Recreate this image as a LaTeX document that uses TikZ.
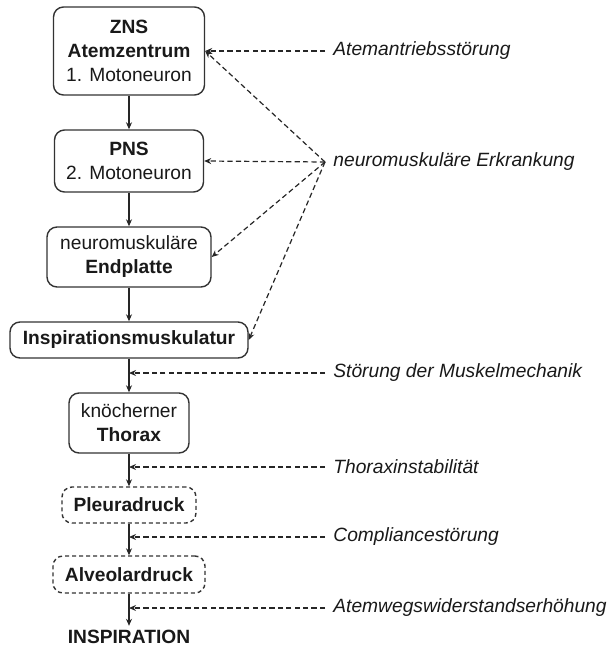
\documentclass[tikz,border=0pt]{standalone}
\usepackage{fontspec}
\setmainfont{Liberation Sans}
\usetikzlibrary{arrows.meta}

\begin{document}
\begin{tikzpicture}[x=0.5pt,y=-0.5pt]
          \tikzstyle{every node}+=[font=\fontsize{9.6}{12}\selectfont, text=black!90]
          \tikzstyle{box}=[draw=black!80, line width=0.7pt, rounded corners=5pt, align=center, inner sep=0pt]
          \tikzstyle{dbox}=[box, dash pattern=on 2pt off 1.5pt]
          \tikzstyle{flow}=[-{Stealth[length=3.5pt,width=3pt]}, line width=0.6pt, black!85]
          \tikzstyle{cause}=[-{Stealth[length=3.5pt,width=3pt]}, dash pattern=on 2.6pt off 1.6pt, line width=0.6pt, black!85]
          \tikzstyle{lbl}=[anchor=west, inner sep=4pt, font=\fontsize{9.6}{12}\selectfont\itshape]
          \useasboundingbox (0,0) rectangle (614,648);
          % chain
          \node[box, minimum width=75.5pt, minimum height=44pt] (zns) at (129,51) {\textbf{ZNS}\\\textbf{Atemzentrum}\\1. Motoneuron};
          \node[box, minimum width=74.5pt, minimum height=31pt] (pns) at (129,161) {\textbf{PNS}\\2. Motoneuron};
          \node[box, minimum width=82pt, minimum height=30pt] (endpl) at (129,257) {neuromuskuläre\\\textbf{Endplatte}};
          \node[box, minimum width=119pt, minimum height=18pt] (insp) at (129,340) {\textbf{Inspirationsmuskulatur}};
          \node[box, minimum width=60pt, minimum height=30pt] (thx) at (129,423) {knöcherner\\\textbf{Thorax}};
          \node[dbox, minimum width=67pt, minimum height=18pt] (pleu) at (129,505) {\textbf{Pleuradruck}};
          \node[dbox, minimum width=76pt, minimum height=18.5pt] (alv) at (129,574.5) {\textbf{Alveolardruck}};
          \node[inner sep=2pt] (out) at (129,637) {\textbf{INSPIRATION}};
          \draw[flow] (zns) -- (pns);
          \draw[flow] (pns) -- (endpl);
          \draw[flow] (endpl) -- (insp);
          \draw[flow] (insp) -- (thx);
          \draw[flow] (thx) -- (pleu);
          \draw[flow] (pleu) -- (alv);
          \draw[flow] (alv) -- (out);
          % causes
          \node[lbl] (l1) at (325,51) {Atemantriebsstörung};
          \node[lbl] (l2) at (325,162) {neuromuskuläre Erkrankung};
          \node[lbl] (l3) at (325,373) {Störung der Muskelmechanik};
          \node[lbl] (l4) at (325,467) {Thoraxinstabilität};
          \node[lbl] (l5) at (325,537) {Compliancestörung};
          \node[lbl] (l6) at (325,608) {Atemwegswiderstandserhöhung};
          \draw[cause] (l1.west) -- (zns.east);
          \draw[cause] (l2.west) -- (zns.east);
          \draw[cause] (l2.west) -- (pns.east);
          \draw[cause] (l2.west) -- (endpl.east);
          \draw[cause] (l2.west) -- (insp.east);
          \draw[cause] (l3.west) -- (insp.south |- l3.west);
          \draw[cause] (l4.west) -- (thx.south |- l4.west);
          \draw[cause] (l5.west) -- (pleu.south |- l5.west);
          \draw[cause] (l6.west) -- (alv.south |- l6.west);
        \end{tikzpicture}
\end{document}
